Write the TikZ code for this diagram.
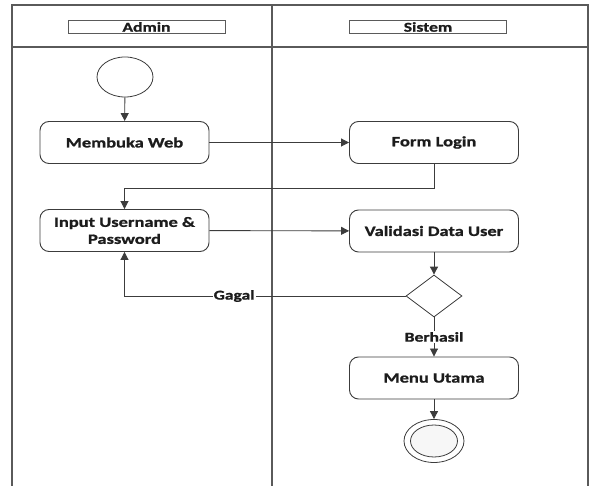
\documentclass[tikz,border=0pt]{standalone}
\usepackage{fontspec}
\setmainfont{Carlito}[FakeStretch=1.3, BoldFeatures={FakeBold=1.2}]
\usetikzlibrary{shapes.geometric,arrows.meta,positioning}

\definecolor{lanegray}{HTML}{5A5A5A}
\definecolor{linegray}{HTML}{3C3C3C}
\definecolor{inkgray}{HTML}{1C1C1C}

\tikzset{
  lane/.style={draw=lanegray, line width=1.3pt},
  actbox/.style={draw=linegray, line width=0.9pt, rounded corners=9pt,
    minimum width=169pt, minimum height=42pt, align=center,
    font=\fontsize{14.2pt}{17pt}\selectfont\bfseries, text=inkgray},
  headbox/.style={draw=lanegray, line width=0.9pt, minimum width=157pt,
    minimum height=13pt, inner sep=0pt,
    font=\fontsize{13.5pt}{14pt}\selectfont\bfseries, text=inkgray},
  flow/.style={draw=linegray, line width=0.9pt,
    -{Triangle[length=8pt,width=8pt]}},
  guard/.style={fill=white, inner sep=1pt, text=inkgray,
    font=\fontsize{13.5pt}{15pt}\selectfont\bfseries},
  startnode/.style={ellipse, draw=linegray, line width=0.8pt,
    minimum width=56pt, minimum height=40pt, inner sep=0pt},
  decision/.style={diamond, draw=linegray, line width=0.8pt,
    minimum width=56pt, minimum height=42pt, inner sep=0pt},
}

\begin{document}
\begin{tikzpicture}[x=1pt, y=-1pt]
  \useasboundingbox (0,0) rectangle (590,486);

  % swimlane frame
  \draw[lane] (12,486) -- (12,5) -- (588,5) -- (588,486);
  \draw[lane] (12,47) -- (588,47);
  \draw[lane] (272,5) -- (272,486);

  % lane titles
  \node[headbox] (hadmin)  at (146.5,27) {Admin};
  \node[headbox] (hsistem) at (428,27)   {Sistem};

  % activities
  \node[startnode] (start) at (125,77) {};
  \node[actbox] (web)   at (124.5,142.5) {Membuka Web};
  \node[actbox] (form)  at (434,142.5)   {Form Login};
  \node[actbox] (input) at (124.5,230.5) {Input Username \&\\Password};
  \node[actbox] (valid) at (434,231)     {Validasi Data User};
  \node[decision] (dec) at (434,296) {};
  \node[actbox] (menu)  at (434,378)     {Menu Utama};

  % final node
  \node[ellipse, draw=linegray, line width=0.8pt, minimum width=60pt,
        minimum height=43pt, inner sep=0pt] (final) at (434,441) {};
  \node[ellipse, draw=linegray, line width=0.8pt, fill=gray!6,
        minimum width=47pt, minimum height=32pt, inner sep=0pt] (finalin) at (final.center) {};

  % control flow
  \draw[flow] (start) -- (web);
  \draw[flow] (web) -- (form);
  \draw[flow] (form.south) -- ++(0,25) -| (input.north);
  \draw[flow] (input) -- (valid);
  \draw[flow] (valid) -- (dec);
  \draw[flow] (dec.west) -- node[guard, pos=0.61] {Gagal} (input.south |- dec.west) -- (input.south);
  \draw[flow] (dec.south) -- node[guard, pos=0.5] {Berhasil} (menu.north);
  \draw[flow] (menu) -- (final);
\end{tikzpicture}
\end{document}
